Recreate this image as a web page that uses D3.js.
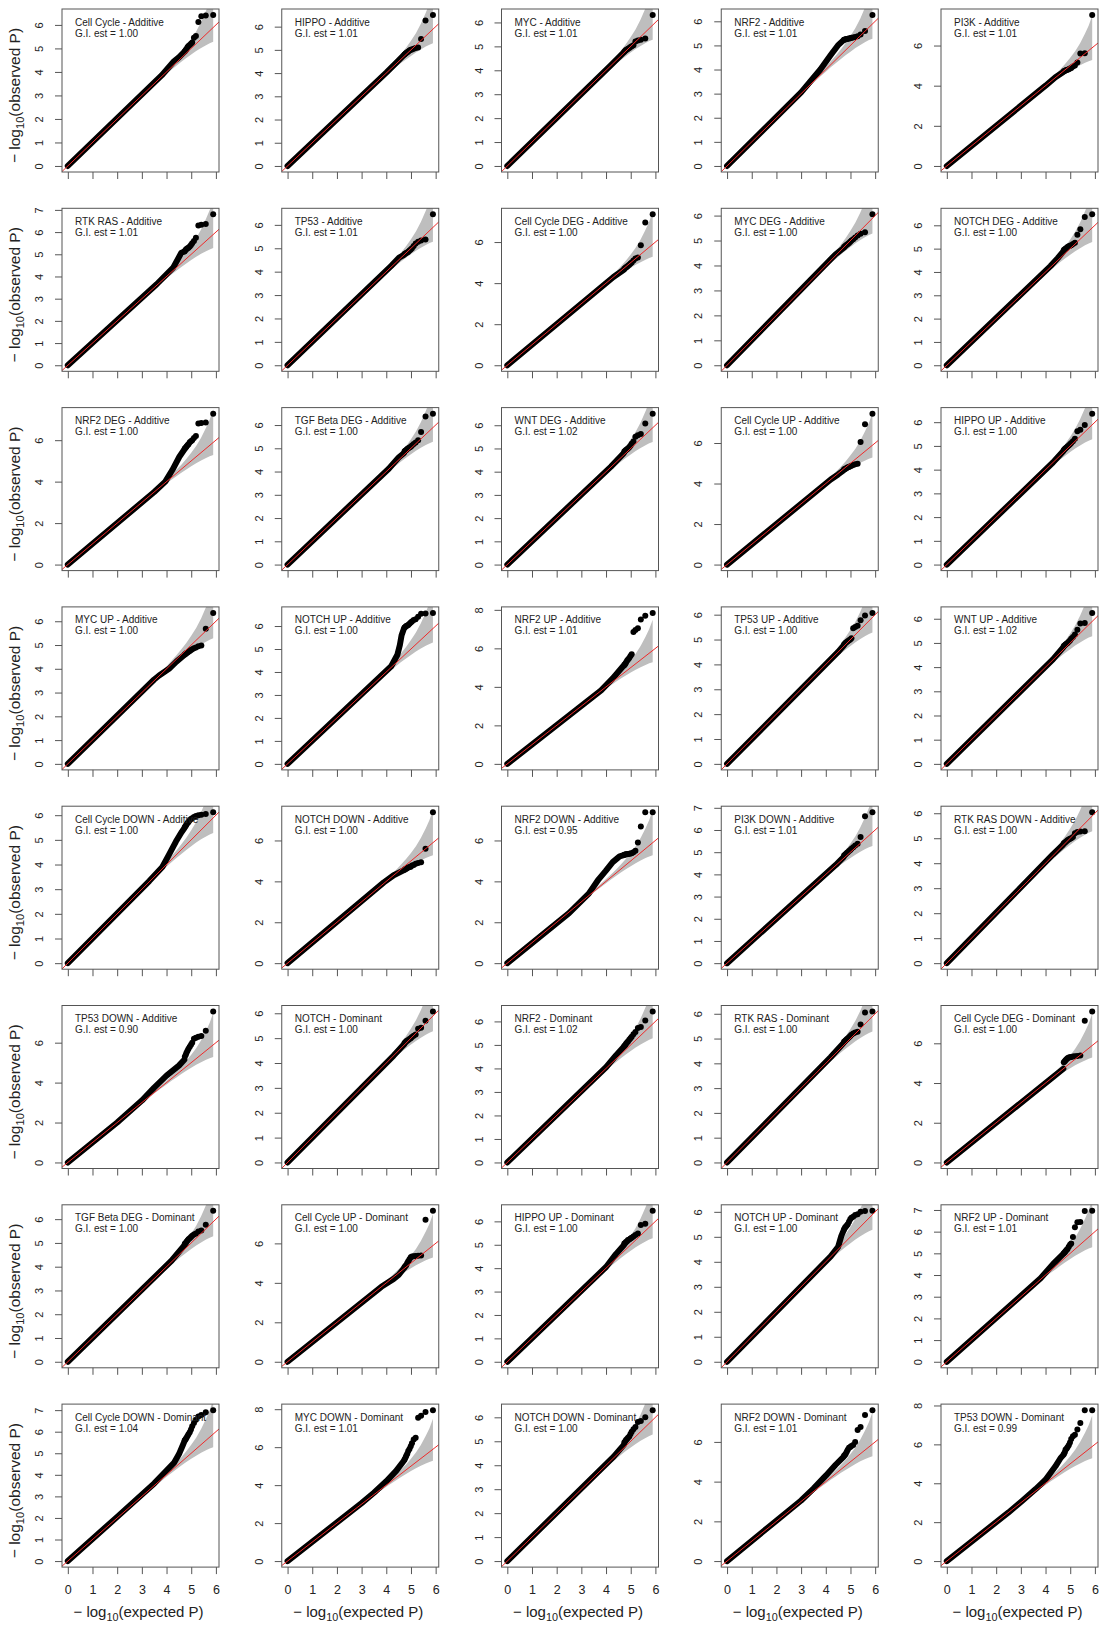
<!DOCTYPE html>
<html>
<head>
<meta charset="utf-8">
<script src="https://cdn.jsdelivr.net/npm/d3@7"></script>
<style>
  body { margin: 0; background: #fff; }
  svg { display: block; }
</style>
</head>
<body>
<script>
// Panel titles and genomic inflation estimates, row by row (5 panels per row)
const panelTitles = [
  "Cell Cycle - Additive", "HIPPO - Additive", "MYC - Additive", "NRF2 - Additive", "PI3K - Additive",
  "RTK RAS - Additive", "TP53 - Additive", "Cell Cycle DEG - Additive", "MYC DEG - Additive", "NOTCH DEG - Additive",
  "NRF2 DEG - Additive", "TGF Beta DEG - Additive", "WNT DEG - Additive", "Cell Cycle UP - Additive", "HIPPO UP - Additive",
  "MYC UP - Additive", "NOTCH UP - Additive", "NRF2 UP - Additive", "TP53 UP - Additive", "WNT UP - Additive",
  "Cell Cycle DOWN - Additive", "NOTCH DOWN - Additive", "NRF2 DOWN - Additive", "PI3K DOWN - Additive", "RTK RAS DOWN - Additive",
  "TP53 DOWN - Additive", "NOTCH - Dominant", "NRF2 - Dominant", "RTK RAS - Dominant", "Cell Cycle DEG - Dominant",
  "TGF Beta DEG - Dominant", "Cell Cycle UP - Dominant", "HIPPO UP - Dominant", "NOTCH UP - Dominant", "NRF2 UP - Dominant",
  "Cell Cycle DOWN - Dominant", "MYC DOWN - Dominant", "NOTCH DOWN - Dominant", "NRF2 DOWN - Dominant", "TP53 DOWN - Dominant"
];
const giEstimates = [
  1.00, 1.01, 1.01, 1.01, 1.01,
  1.01, 1.01, 1.00, 1.00, 1.00,
  1.00, 1.00, 1.02, 1.00, 1.00,
  1.00, 1.00, 1.01, 1.00, 1.02,
  1.00, 1.00, 0.95, 1.01, 1.00,
  0.90, 1.00, 1.02, 1.00, 1.00,
  1.00, 1.00, 1.00, 1.00, 1.01,
  1.04, 1.01, 1.00, 1.01, 0.99
];

// Expected -log10(P) of the most significant tests (rank 1, 2, 3, ...)
const tailExpected = [5.89, 5.59, 5.41, 5.29, 5.19, 5.11, 5.04, 4.99, 4.94, 4.89, 4.85, 4.81, 4.78, 4.74];

// Observed -log10(P) for those top-ranked tests, one list per panel
const tailObserved = [
  [6.42, 6.40, 6.37, 6.12, 5.53, 5.45, 5.25, 5.20, 5.15, 5.10, 5.05, 4.98, 4.93, 4.88],
  [6.50, 6.27, 5.47, 5.10, 5.08, 5.05, 5.02, 5.00, 4.97, 4.93, 4.90, 4.87, 4.84, 4.80],
  [6.31, 5.33, 5.28, 5.25, 5.20, 5.05, 5.00, 4.97, 4.93, 4.90, 4.87, 4.85, 4.82, 4.78],
  [6.26, 5.60, 5.45, 5.38, 5.35, 5.33, 5.32, 5.30, 5.29, 5.28, 5.27, 5.26, 5.25, 5.24],
  [7.52, 5.62, 5.60, 5.15, 5.00, 4.95, 4.88, 4.85, 4.82, 4.80, 4.78, 4.76, 4.74, 4.72],
  [6.80, 6.37, 6.33, 6.30, 5.75, 5.60, 5.50, 5.42, 5.35, 5.30, 5.27, 5.24, 5.20, 5.15],
  [6.45, 5.37, 5.33, 5.28, 5.20, 5.10, 5.00, 4.95, 4.90, 4.85, 4.82, 4.80, 4.78, 4.75],
  [7.35, 6.95, 5.85, 5.25, 5.20, 5.10, 5.00, 4.95, 4.90, 4.85, 4.80, 4.77, 4.74, 4.70],
  [6.05, 5.33, 5.27, 5.20, 5.12, 5.05, 5.00, 4.95, 4.90, 4.86, 4.83, 4.80, 4.77, 4.74],
  [6.47, 6.36, 5.83, 5.60, 5.25, 5.20, 5.15, 5.12, 5.10, 5.07, 5.03, 5.00, 4.97, 4.94],
  [7.28, 6.85, 6.83, 6.80, 6.20, 6.10, 6.00, 5.95, 5.90, 5.80, 5.75, 5.70, 5.65, 5.60],
  [6.49, 6.37, 5.70, 5.35, 5.25, 5.18, 5.12, 5.07, 5.03, 5.00, 4.97, 4.93, 4.90, 4.87],
  [6.50, 6.07, 5.62, 5.57, 5.50, 5.30, 5.20, 5.12, 5.05, 5.00, 4.97, 4.93, 4.90, 4.87],
  [7.45, 6.93, 6.05, 4.98, 4.95, 4.92, 4.88, 4.85, 4.82, 4.80, 4.77, 4.74, 4.72, 4.70],
  [6.36, 5.88, 5.68, 5.62, 5.30, 5.20, 5.12, 5.07, 5.02, 4.97, 4.93, 4.90, 4.87, 4.83],
  [6.35, 5.68, 4.98, 4.95, 4.90, 4.86, 4.82, 4.79, 4.75, 4.72, 4.69, 4.66, 4.63, 4.60],
  [6.57, 6.55, 6.53, 6.40, 6.30, 6.26, 6.20, 6.15, 6.10, 6.05, 6.02, 6.00, 5.97, 5.94],
  [7.84, 7.70, 7.50, 7.05, 6.95, 6.85, 5.70, 5.60, 5.50, 5.42, 5.35, 5.27, 5.20, 5.15],
  [6.07, 5.97, 5.78, 5.55, 5.50, 5.45, 5.05, 5.00, 4.97, 4.93, 4.90, 4.87, 4.84, 4.80],
  [6.24, 5.82, 5.80, 5.55, 5.35, 5.25, 5.17, 5.10, 5.05, 5.00, 4.97, 4.93, 4.90, 4.87],
  [6.12, 6.05, 6.02, 6.00, 5.97, 5.93, 5.88, 5.85, 5.80, 5.72, 5.68, 5.62, 5.57, 5.52],
  [7.38, 5.59, 4.94, 4.90, 4.86, 4.80, 4.77, 4.72, 4.70, 4.68, 4.65, 4.62, 4.60, 4.57],
  [7.38, 7.38, 6.68, 5.90, 5.50, 5.42, 5.38, 5.36, 5.35, 5.34, 5.33, 5.32, 5.31, 5.30],
  [6.80, 6.62, 5.68, 5.38, 5.30, 5.22, 5.15, 5.10, 5.05, 5.00, 4.96, 4.92, 4.88, 4.85],
  [6.04, 5.28, 5.27, 5.25, 5.20, 5.05, 5.00, 4.98, 4.95, 4.92, 4.88, 4.85, 4.82, 4.80],
  [7.56, 6.60, 6.34, 6.30, 6.25, 6.20, 6.00, 5.90, 5.80, 5.70, 5.60, 5.50, 5.40, 5.30],
  [6.07, 5.70, 5.42, 5.38, 5.15, 5.10, 5.05, 5.00, 4.97, 4.93, 4.90, 4.87, 4.83, 4.80],
  [6.42, 6.04, 5.76, 5.72, 5.55, 5.45, 5.35, 5.28, 5.22, 5.15, 5.10, 5.05, 5.00, 4.95],
  [6.09, 6.05, 5.57, 5.27, 5.24, 5.20, 5.15, 5.10, 5.05, 5.00, 4.97, 4.93, 4.90, 4.87],
  [7.60, 7.14, 5.38, 5.36, 5.35, 5.33, 5.31, 5.30, 5.28, 5.25, 5.20, 5.15, 5.10, 5.05],
  [6.35, 5.76, 5.52, 5.48, 5.40, 5.35, 5.30, 5.25, 5.20, 5.15, 5.10, 5.05, 5.00, 4.96],
  [7.65, 7.20, 5.38, 5.37, 5.36, 5.35, 5.33, 5.30, 5.20, 5.10, 5.00, 4.90, 4.85, 4.80],
  [6.45, 5.90, 5.85, 5.48, 5.42, 5.35, 5.30, 5.27, 5.23, 5.20, 5.15, 5.12, 5.08, 5.05],
  [6.04, 6.03, 6.00, 5.90, 5.87, 5.80, 5.76, 5.70, 5.60, 5.50, 5.45, 5.40, 5.37, 5.30],
  [6.96, 6.95, 6.45, 6.43, 6.20, 5.75, 5.45, 5.40, 5.30, 5.20, 5.15, 5.10, 5.05, 5.00],
  [7.00, 6.90, 6.77, 6.70, 6.55, 6.40, 6.25, 6.10, 5.98, 5.88, 5.80, 5.72, 5.66, 5.60],
  [7.95, 7.85, 7.65, 7.55, 6.50, 6.40, 6.20, 6.05, 5.90, 5.80, 5.65, 5.55, 5.45, 5.35],
  [6.30, 6.00, 5.85, 5.80, 5.60, 5.50, 5.40, 5.30, 5.20, 5.15, 5.10, 5.05, 5.00, 4.95],
  [7.60, 7.35, 6.75, 6.60, 6.00, 5.85, 5.80, 5.75, 5.70, 5.60, 5.50, 5.40, 5.35, 5.30],
  [7.76, 7.76, 7.10, 6.76, 6.50, 6.42, 6.28, 6.10, 5.95, 5.85, 5.78, 5.72, 5.60, 5.50]
];

// Dense bulk of each QQ curve as [expected, observed] knots (points overlap into a band)
const bodyCurves = [
  [[0, 0], [3.8, 3.85], [4.3, 4.45], [4.5, 4.62], [4.72, 4.85]],
  [[0, 0], [4.0, 4.02], [4.5, 4.55], [4.72, 4.78]],
  [[0, 0], [4.2, 4.22], [4.72, 4.75]],
  [[0, 0], [3.0, 3.05], [3.78, 4.0], [4.2, 4.6], [4.49, 5.0], [4.72, 5.22]],
  [[0, 0], [4.0, 4.0], [4.4, 4.42], [4.72, 4.68]],
  [[0, 0], [3.6, 3.65], [4.27, 4.4], [4.6, 5.07], [4.72, 5.12]],
  [[0, 0], [4.2, 4.25], [4.52, 4.6], [4.72, 4.72]],
  [[0, 0], [4.3, 4.3], [4.72, 4.65]],
  [[0, 0], [4.1, 4.15], [4.4, 4.45], [4.72, 4.7]],
  [[0, 0], [4.2, 4.25], [4.5, 4.6], [4.72, 4.88]],
  [[0, 0], [3.5, 3.5], [3.95, 4.0], [4.24, 4.57], [4.52, 5.2], [4.72, 5.55]],
  [[0, 0], [4.1, 4.12], [4.5, 4.6], [4.72, 4.8]],
  [[0, 0], [4.2, 4.22], [4.72, 4.8]],
  [[0, 0], [4.2, 4.2], [4.5, 4.45], [4.72, 4.65]],
  [[0, 0], [4.3, 4.3], [4.72, 4.78]],
  [[0, 0], [3.5, 3.55], [3.7, 3.72], [4.1, 4.0], [4.4, 4.3], [4.72, 4.58]],
  [[0, 0], [4.2, 4.25], [4.45, 4.75], [4.55, 5.17], [4.62, 5.6], [4.72, 5.9]],
  [[0, 0], [3.8, 3.82], [4.27, 4.44], [4.69, 5.07], [4.74, 5.12]],
  [[0, 0], [4.5, 4.5], [4.72, 4.75]],
  [[0, 0], [4.3, 4.32], [4.72, 4.82]],
  [[0, 0], [3.3, 3.33], [3.83, 3.9], [4.1, 4.4], [4.38, 4.93], [4.6, 5.3], [4.72, 5.47]],
  [[0, 0], [3.9, 3.95], [4.3, 4.3], [4.72, 4.55]],
  [[0, 0], [2.5, 2.45], [3.3, 3.4], [3.7, 4.1], [3.98, 4.5], [4.27, 4.94], [4.55, 5.22], [4.72, 5.28]],
  [[0, 0], [4.4, 4.42], [4.72, 4.78]],
  [[0, 0], [4.3, 4.35], [4.72, 4.75]],
  [[0, 0], [1.0, 1.0], [2.0, 2.0], [3.0, 3.1], [3.5, 3.75], [4.0, 4.35], [4.5, 4.85], [4.72, 5.15]],
  [[0, 0], [4.3, 4.3], [4.72, 4.75]],
  [[0, 0], [4.0, 4.05], [4.4, 4.55], [4.72, 4.92]],
  [[0, 0], [4.2, 4.25], [4.72, 4.82]],
  [[0, 0], [4.3, 4.3], [4.72, 4.72]],
  [[0, 0], [4.2, 4.25], [4.72, 4.9]],
  [[0, 0], [3.8, 3.8], [4.3, 4.2], [4.5, 4.4], [4.72, 4.75]],
  [[0, 0], [4.0, 4.05], [4.4, 4.6], [4.72, 4.98]],
  [[0, 0], [4.2, 4.22], [4.5, 4.6], [4.63, 5.04], [4.72, 5.25]],
  [[0, 0], [3.8, 3.85], [4.3, 4.5], [4.72, 4.98]],
  [[0, 0], [2.0, 2.05], [3.5, 3.6], [4.0, 4.2], [4.3, 4.55], [4.5, 4.95], [4.65, 5.35], [4.74, 5.6]],
  [[0, 0], [3.0, 3.05], [3.5, 3.6], [4.0, 4.2], [4.4, 4.75], [4.72, 5.3]],
  [[0, 0], [4.3, 4.35], [4.72, 4.85]],
  [[0, 0], [3.0, 3.05], [3.5, 3.65], [4.0, 4.3], [4.4, 4.85], [4.72, 5.25]],
  [[0, 0], [2.5, 2.5], [3.06, 3.1], [3.6, 3.7], [4.0, 4.18], [4.4, 4.87], [4.61, 5.3], [4.72, 5.45]]
];

// Step between labelled y ticks in each panel
const yTickStep = [
  1, 1, 1, 1, 2,
  1, 1, 2, 1, 1,
  2, 1, 1, 2, 1,
  1, 1, 2, 1, 1,
  1, 2, 2, 1, 1,
  2, 1, 1, 1, 2,
  1, 2, 1, 1, 1,
  1, 2, 1, 2, 2
];
const xTicks = [0, 1, 2, 3, 4, 5, 6];

// 95% confidence band for the expected order statistics
const bandExpected = [2.8, 3.2, 3.5, 3.8, 4.0, 4.2, 4.4, 4.6, 4.8, 5.0, 5.2, 5.4, 5.6, 5.75, 5.89];
const bandUpper    = [2.83, 3.24, 3.56, 3.89, 4.11, 4.34, 4.57, 4.82, 5.09, 5.39, 5.72, 6.12, 6.6, 7.0, 7.49];
const bandLower    = [2.78, 3.16, 3.45, 3.73, 3.91, 4.09, 4.26, 4.43, 4.59, 4.74, 4.89, 5.02, 5.14, 5.22, 5.28];

const expectedMax = 5.89;

// ---- layout ----
const W = 1104, H = 1627;
const nCols = 5;
const boxLeft0 = 62, colPitch = 219.75;
const boxTop0 = 9, rowPitch = 199.3;
const boxW = 157, boxH = 163;
const font = "'Liberation Sans', Arial, Helvetica, sans-serif";
const nRows = Math.ceil(panelTitles.length / nCols);

const svg = d3.select("body").append("svg")
  .attr("width", W).attr("height", H)
  .attr("font-family", font);

const x = d3.scaleLinear()
  .domain([-0.04 * expectedMax, 1.04 * expectedMax])
  .range([0, boxW]);

function logLabel(textSel, word) {
  textSel.append("tspan").text("\u2212 log");
  textSel.append("tspan").attr("font-size", "0.72em").attr("dy", 4).text("10");
  textSel.append("tspan").attr("dy", -4).text("(" + word + " P)");
}

panelTitles.forEach((title, i) => {
  const col = i % nCols, row = Math.floor(i / nCols);
  const left = boxLeft0 + col * colPitch;
  const top = boxTop0 + row * rowPitch;
  const obs = tailObserved[i];
  const yMax = d3.max(obs);
  const y = d3.scaleLinear()
    .domain([-0.04 * yMax, 1.04 * yMax])
    .range([boxH, 0]);

  const g = svg.append("g").attr("transform", `translate(${left},${top})`);
  const clipId = "clip" + i;
  g.append("clipPath").attr("id", clipId)
    .append("rect").attr("width", boxW).attr("height", boxH);
  const plot = g.append("g").attr("clip-path", `url(#${clipId})`);

  // confidence band
  const band = bandExpected.map((e, k) => ({ e, lo: bandLower[k], hi: bandUpper[k] }));
  plot.append("path")
    .datum(band)
    .attr("fill", "#bebebe")
    .attr("d", d3.area().x(d => x(d.e)).y0(d => y(d.lo)).y1(d => y(d.hi)));

  // legend text
  const legend = g.append("text").attr("font-size", 10).attr("fill", "#222");
  legend.append("tspan").attr("x", 13).attr("y", 16.5).text(title);
  legend.append("tspan").attr("x", 13).attr("y", 27.5).text("G.I. est = " + giEstimates[i].toFixed(2));

  // dense bulk of points
  plot.append("path")
    .datum(bodyCurves[i])
    .attr("fill", "none")
    .attr("stroke", "#000")
    .attr("stroke-width", 6)
    .attr("stroke-linecap", "round")
    .attr("stroke-linejoin", "round")
    .attr("d", d3.line().x(d => x(d[0])).y(d => y(d[1])));

  // top-ranked individual points
  plot.selectAll("circle")
    .data(obs.map((v, k) => [tailExpected[k], v]))
    .join("circle")
    .attr("cx", d => x(d[0]))
    .attr("cy", d => y(d[1]))
    .attr("r", 3)
    .attr("fill", "#000");

  // y = x reference line
  const lim = [-1, 10];
  plot.append("line")
    .attr("x1", x(lim[0])).attr("y1", y(lim[0]))
    .attr("x2", x(lim[1])).attr("y2", y(lim[1]))
    .attr("stroke", "#ee2a2a").attr("stroke-width", 1);

  // frame
  g.append("rect").attr("width", boxW).attr("height", boxH)
    .attr("fill", "none").attr("stroke", "#555").attr("stroke-width", 1);

  // x axis ticks
  const isBottom = row === nRows - 1;
  const xAxis = d3.axisBottom(x).tickValues(xTicks).tickSize(7).tickPadding(11)
    .tickFormat(isBottom ? d3.format("d") : () => "");
  const xg = g.append("g").attr("transform", `translate(0,${boxH})`).call(xAxis);
  xg.select(".domain").remove();
  xg.selectAll(".tick line").attr("stroke", "#555");
  xg.selectAll(".tick text").attr("font-size", 12.5).attr("fill", "#222").attr("font-family", font);

  // y axis ticks with rotated labels
  const step = yTickStep[i];
  const yTicks = d3.range(0, y.domain()[1] + 1e-9, step);
  const yAxis = d3.axisLeft(y).tickValues(yTicks).tickSize(7).tickFormat(d3.format("d"));
  const yg = g.append("g").call(yAxis);
  yg.select(".domain").remove();
  yg.selectAll(".tick line").attr("stroke", "#555");
  yg.selectAll(".tick text")
    .attr("font-size", 11).attr("fill", "#222").attr("font-family", font)
    .attr("x", null).attr("dy", null)
    .attr("text-anchor", "middle")
    .attr("transform", "translate(-19,0) rotate(-90)");

  if (col === 0) {
    const yl = g.append("text")
      .attr("transform", `translate(-42,${boxH / 2 + 5}) rotate(-90)`)
      .attr("text-anchor", "middle")
      .attr("font-size", 15.5).attr("fill", "#222");
    logLabel(yl, "observed");
  }
  if (isBottom) {
    const xl = g.append("text")
      .attr("x", boxW / 2 - 2).attr("y", boxH + 50)
      .attr("text-anchor", "middle")
      .attr("font-size", 15).attr("fill", "#222");
    logLabel(xl, "expected");
  }
});
</script>
</body>
</html>
